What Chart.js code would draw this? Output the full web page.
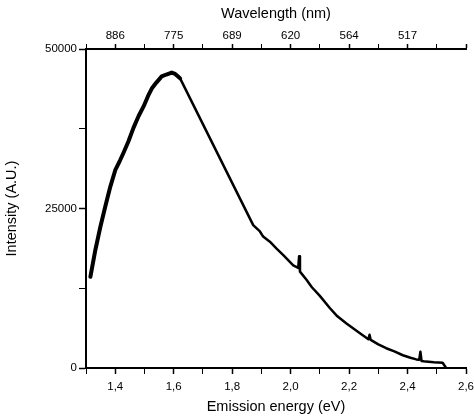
<!DOCTYPE html>
<html>
<head>
<meta charset="utf-8">
<title>Emission spectrum</title>
<script src="https://cdn.jsdelivr.net/npm/chart.js"></script>
<style>
    html, body { margin: 0; padding: 0; background: #fff; }
    .chart-container { width: 474px; height: 418px; }
</style>
</head>
<body>
<div class="chart-container">
    <canvas id="spectrumChart"></canvas>
</div>
<script>
// emission energy (eV)
const energy = [
    1.315, 1.332, 1.349, 1.366, 1.383, 1.400, 1.417, 1.428, 1.445, 1.462,
    1.480, 1.497, 1.512, 1.525, 1.540, 1.559, 1.575, 1.593, 1.605, 1.615,
    1.622, 1.872, 1.895, 1.906, 1.929, 1.952, 1.975, 2.009, 2.026, 2.029,
    2.032, 2.055, 2.072, 2.100, 2.134, 2.160, 2.190, 2.236, 2.266, 2.270,
    2.274, 2.300, 2.327, 2.355, 2.384, 2.410, 2.430, 2.440, 2.444, 2.448,
    2.463, 2.490, 2.520, 2.532
];
// intensity (A.U.)
const intensity = [
    14300, 18500, 22100, 25300, 28400, 31000, 32600, 33700, 35500, 37600,
    39500, 41000, 42600, 43800, 44700, 45700, 46000, 46300, 46100, 45700,
    45400, 22400, 21400, 20600, 19800, 18700, 17700, 16100, 15700, 17500,
    15100, 13800, 12700, 11300, 9400, 8100, 7000, 5500, 4500, 5200,
    4400, 3700, 3100, 2600, 2000, 1600, 1350, 1300, 2550, 1100,
    1000, 900, 830, 0
];

// tick labels
const energyTicks = [1.4, 1.6, 1.8, 2.0, 2.2, 2.4, 2.6];
const wavelengthTickPos = [1.4, 1.6, 1.8, 2.0, 2.2, 2.4];
const wavelengthLabels = ['886', '775', '689', '620', '564', '517'];
const intensityTicks = [0, 25000, 50000];

const FONT = "'Liberation Sans', Arial, sans-serif";
const tickFont = { family: FONT, size: 11.5 };
const titleFont = { family: FONT, size: 14.5 };

const round1 = v => Math.round(v * 10) / 10;
const isMajor = v => Math.round(v * 10) % 2 === 0;

new Chart(document.getElementById('spectrumChart'), {
    type: 'line',
    data: {
        datasets: [{
            data: energy.map((e, i) => ({ x: e, y: intensity[i] })),
            borderColor: '#000',
            borderWidth: 2.5,
            borderJoinStyle: 'round',
            borderCapStyle: 'round',
            pointRadius: 0,
            tension: 0,
            segment: {
                // noisier (thicker) trace before the gap
                borderWidth: ctx => ctx.p1.parsed.x <= 1.623 ? 4 : 2.5
            }
        }]
    },
    options: {
        responsive: true,
        maintainAspectRatio: false,
        animation: false,
        layout: { padding: { left: 0, right: 8, top: 0, bottom: 0 } },
        plugins: {
            legend: { display: false },
            tooltip: { enabled: false }
        },
        scales: {
            x: {
                type: 'linear',
                position: 'bottom',
                min: 1.3,
                max: 2.6,
                border: { color: '#000', width: 2 },
                grid: {
                    drawOnChartArea: false,
                    color: '#000',
                    tickLength: 6,
                    tickWidth: ctx => ctx.tick && isMajor(ctx.tick.value) ? 1.5 : 1
                },
                ticks: {
                    stepSize: 0.1,
                    color: '#000',
                    font: tickFont,
                    padding: 6,
                    maxRotation: 0,
                    autoSkip: false,
                    callback: v => {
                        const r = round1(v);
                        return energyTicks.includes(r) ? r.toFixed(1).replace('.', ',') : '';
                    }
                },
                title: {
                    display: true,
                    text: 'Emission energy (eV)',
                    color: '#000',
                    font: titleFont,
                    padding: { top: 0, bottom: 2 }
                },
                afterFit: s => { s.height = 50; s.paddingLeft = 0; s.paddingRight = 0; }
            },
            x2: {
                type: 'linear',
                position: 'top',
                min: 1.3,
                max: 2.6,
                border: { color: '#000', width: 2 },
                grid: {
                    drawOnChartArea: false,
                    color: '#000',
                    tickLength: 5,
                    tickWidth: ctx => ctx.tick && isMajor(ctx.tick.value) ? 1.5 : 1
                },
                ticks: {
                    stepSize: 0.1,
                    color: '#000',
                    font: tickFont,
                    padding: 1,
                    maxRotation: 0,
                    autoSkip: false,
                    callback: v => {
                        const i = wavelengthTickPos.indexOf(round1(v));
                        return i >= 0 ? wavelengthLabels[i] : '';
                    }
                },
                title: {
                    display: true,
                    text: 'Wavelength (nm)',
                    color: '#000',
                    font: titleFont,
                    padding: { top: 5, bottom: 0 }
                },
                afterFit: s => { s.height = 49; s.paddingLeft = 0; s.paddingRight = 0; }
            },
            y: {
                type: 'linear',
                position: 'left',
                min: 0,
                max: 50000,
                border: { color: '#000', width: 2 },
                grid: {
                    drawOnChartArea: false,
                    color: '#000',
                    tickLength: 7,
                    tickWidth: ctx => ctx.tick && intensityTicks.includes(ctx.tick.value) ? 1.5 : 1
                },
                ticks: {
                    stepSize: 12500,
                    color: '#000',
                    font: tickFont,
                    padding: 2,
                    autoSkip: false,
                    callback: v => intensityTicks.includes(v) ? String(v) : ''
                },
                title: {
                    display: true,
                    text: 'Intensity (A.U.)',
                    color: '#000',
                    font: titleFont,
                    padding: { top: 3, bottom: 0 }
                },
                afterFit: s => { s.width = 86; s.paddingTop = 0; s.paddingBottom = 0; }
            }
        }
    }
});
</script>
</body>
</html>
